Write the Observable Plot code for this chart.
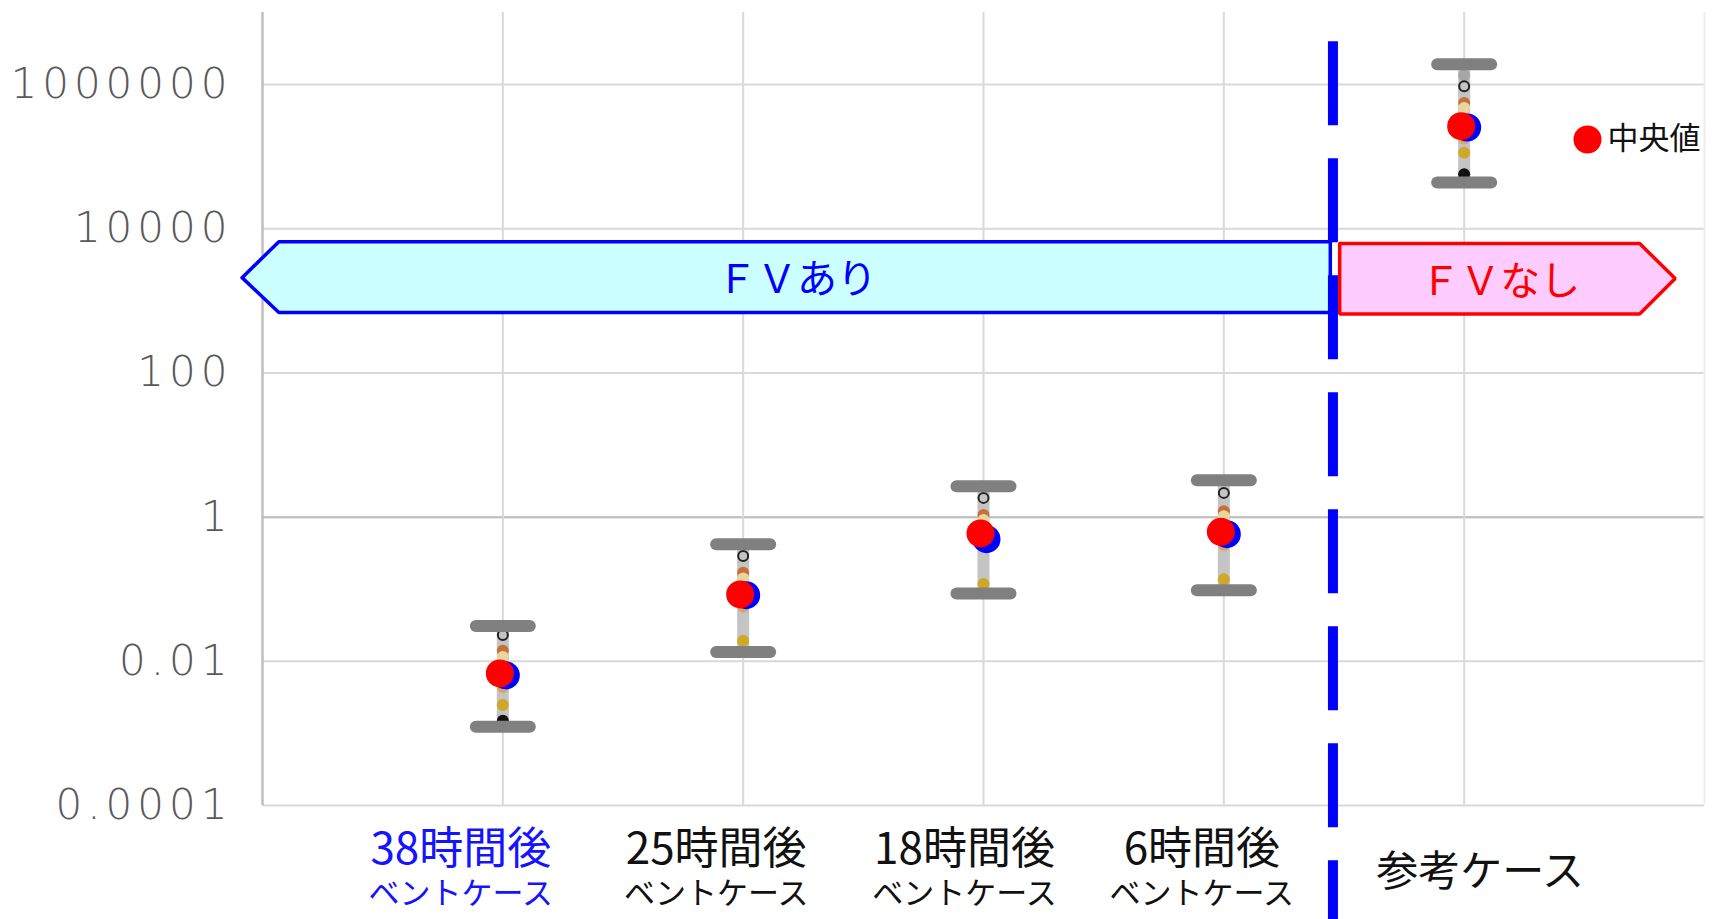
<!DOCTYPE html>
<html>
<head>
<meta charset="utf-8">
<script src="https://cdn.jsdelivr.net/npm/d3@7"></script>
<script src="https://cdn.jsdelivr.net/npm/@observablehq/plot@0.6"></script>
<style>
  html, body { margin: 0; padding: 0; background: #fff; }
  #chart { width: 1713px; height: 919px; }
</style>
</head>
<body>
<div id="chart"></div>
<script>
// ---- data ----
const catLine1 = ["38時間後", "25時間後", "18時間後", "6時間後", "参考ケース"];
const catLine2 = ["ベントケース", "ベントケース", "ベントケース", "ベントケース", ""];
const catIndex = [1, 2, 3, 4, 5];

const capHigh = [0.031, 0.42, 2.69, 3.26, 1.92e6];
const capLow  = [0.00124, 0.0135, 0.0875, 0.097, 4.4e4];
const topGray = [null, null, null, null, 1.35e6];
const maxOpen = [0.0231, 0.288, 1.85, 2.17, 9.5e5];
const p95     = [0.014, 0.169, 1.07, 1.21, 5.57e5];
const p90     = [0.0115, 0.141, 0.91, 1.03, 4.75e5];
const meanV   = [0.0064, 0.0828, 0.495, 0.581, 2.54e5];
const median  = [0.0068, 0.0847, 0.594, 0.625, 2.65e5];
const p10     = [0.0044, 0.057, 0.389, 0.409, 1.79e5];
const p5      = [0.00247, 0.0193, 0.118, 0.137, 1.13e5];
const minV    = [0.0015, null, null, null, 5.72e4];

const yTicks = [1e-4, 0.01, 1, 100, 1e4, 1e6];

// annotation shapes in data units (x: category index, y: value)
const fvAriX = [-0.085, 0.068, 4.443, 4.443, 0.068, -0.085];
const fvAriY = [2100, 6600, 6600, 690, 690, 2100];
const fvNashiX = [4.482, 5.730, 5.878, 5.730, 4.482, 4.482];
const fvNashiY = [6250, 6250, 2045, 658, 658, 6250];
const dividerX = [4.454, 4.454];
const dividerY = [4.0e6, 2.66e-6];
const fvLabels = ["ＦＶあり", "ＦＶなし"];
const fvLabelX = [2.224, 5.15];
const fvLabelY = [1938, 1817];

// ---- build tables ----
const rows = catIndex.map((x, i) => ({
  x, line1: catLine1[i], line2: catLine2[i],
  capHigh: capHigh[i], capLow: capLow[i], topGray: topGray[i], maxOpen: maxOpen[i],
  p95: p95[i], p90: p90[i], mean: meanV[i], median: median[i], p10: p10[i], p5: p5[i], min: minV[i]
}));
const poly = (xs, ys) => xs.map((x, i) => ({x, y: ys[i]}));

const capSymbol = { draw(ctx) { ctx.moveTo(-27, 0); ctx.lineTo(27, 0); } };

const JP = "'Noto Sans CJK JP', sans-serif";
const labelDx = [-42, -27, -19, -22, 16];
const labelColor = ["#1414ff", "#111", "#111", "#111", "#111"];

const smallDot = (key, fill) => Plot.dot(rows.filter(d => d[key] != null), {x: "x", y: key, r: 6, fill, stroke: "none"});

const labelMarks = [];
rows.forEach((d, i) => {
  if (d.line2) {
    labelMarks.push(Plot.text([d], {x: "x", text: "line1", frameAnchor: "bottom", dy: 44, dx: labelDx[i], lineAnchor: "middle", fontSize: 44, fill: labelColor[i], fontFamily: JP}));
    labelMarks.push(Plot.text([d], {x: "x", text: "line2", frameAnchor: "bottom", dy: 89, dx: labelDx[i], lineAnchor: "middle", fontSize: 31, fill: labelColor[i], fontFamily: JP}));
  } else {
    labelMarks.push(Plot.text([d], {x: "x", text: "line1", frameAnchor: "bottom", dy: 67, dx: labelDx[i], lineAnchor: "middle", fontSize: 42, fill: labelColor[i], fontFamily: JP}));
  }
});

const chart = Plot.plot({
  width: 1713,
  height: 919,
  marginLeft: 262,
  marginRight: 9,
  marginTop: 12,
  marginBottom: 114,
  style: {background: "white", fontFamily: JP},
  x: {domain: [0, 6], axis: null},
  y: {type: "log", domain: [1e-4, 1e7], axis: null},
  marks: [
    Plot.ruleY(yTicks, {stroke: "#d9d9d9", strokeWidth: 2}),
    Plot.ruleY([1], {stroke: "#bfbfbf", strokeWidth: 2}),
    Plot.ruleX(catIndex, {stroke: "#d9d9d9", strokeWidth: 2}),
    Plot.ruleX([6], {stroke: "#eeeeee", strokeWidth: 2}),
    Plot.ruleX([0], {stroke: "#bfbfbf", strokeWidth: 2.5}),
    Plot.axisY(yTicks, {tickFormat: d => String(d), tickSize: 0, tickPadding: 30, fontSize: 42, fontWeight: 200, fill: "#595959", fontFamily: "DejaVu Sans", label: null}),
    // arrows
    Plot.line(poly(fvAriX, fvAriY), {x: "x", y: "y", fill: "#ccffff", stroke: "#0000ff", strokeWidth: 3.5, strokeLinejoin: "miter"}),
    Plot.line(poly(fvNashiX, fvNashiY), {x: "x", y: "y", fill: "#ffccff", stroke: "#ff0000", strokeWidth: 3.5, strokeLinejoin: "miter"}),
    Plot.text(fvLabels, {x: (d, i) => fvLabelX[i], y: (d, i) => fvLabelY[i], text: d => d, fontSize: 40, fill: (d, i) => i === 0 ? "#0000ff" : "#ff0000", lineAnchor: "middle", fontFamily: JP}),
    // divider
    Plot.line(poly(dividerX, dividerY), {x: "x", y: "y", stroke: "#0000ff", strokeWidth: 10, strokeDasharray: "84 33", strokeLinecap: "butt"}),
    // error bars
    Plot.link(rows, {x1: "x", x2: "x", y1: "capLow", y2: "capHigh", stroke: "#c4c4c4", strokeWidth: 12}),
    smallDot("topGray", "#a6a6a6"),
    Plot.dot(rows, {x: "x", y: "maxOpen", r: 5, fill: "none", stroke: "#222", strokeWidth: 2}),
    smallDot("p95", "#c8703c"),
    smallDot("p90", "#e8d6a0"),
    smallDot("p10", "#d9a860"),
    smallDot("p5", "#d0a828"),
    smallDot("min", "#111"),
    Plot.dot(rows, {x: "x", y: "mean", r: 14, fill: "#0000ff", dx: 3}),
    Plot.dot(rows, {x: "x", y: "median", r: 14, fill: "#ff0000", dx: -3}),
    Plot.dot(rows, {x: "x", y: "capHigh", symbol: capSymbol, r: 10, fill: "none", stroke: "#808080", strokeWidth: 12, strokeLinecap: "round"}),
    Plot.dot(rows, {x: "x", y: "capLow", symbol: capSymbol, r: 10, fill: "none", stroke: "#808080", strokeWidth: 12, strokeLinecap: "round"}),
    // legend
    Plot.dot([0], {frameAnchor: "top-right", dx: -117, dy: 127, r: 14, fill: "#ff0000"}),
    Plot.text(["中央値"], {frameAnchor: "top-right", dx: -97, dy: 127, textAnchor: "start", lineAnchor: "middle", fontSize: 31, fill: "#111", fontFamily: JP}),
    ...labelMarks
  ]
});

d3.select(chart).selectAll('g[aria-label="y-axis tick label"] text').style("letter-spacing", "5px");
document.getElementById("chart").appendChild(chart);
</script>
</body>
</html>
